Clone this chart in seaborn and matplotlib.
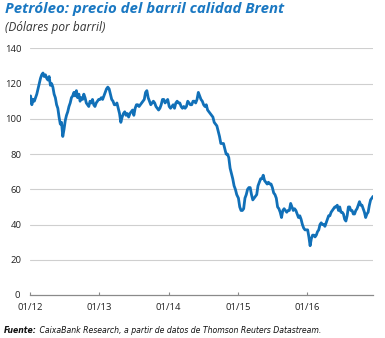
import numpy as np
import pandas as pd
import matplotlib
matplotlib.use("Agg")
import matplotlib.pyplot as plt
import matplotlib.dates as mdates
import seaborn as sns

# Weekly Brent price (USD/barrel)
brent_2012 = [113, 108, 111, 110, 112,
              114, 117, 120, 123,
              125, 126, 124, 125, 123,
              122, 124, 119, 120,
              118, 114, 112, 108, 106,
              101, 97, 98, 90, 94,
              99, 102, 104, 107,
              109, 112, 113, 115, 113,
              116, 112, 114, 110, 112,
              111, 114, 112, 109, 108,
              107, 110, 109, 111,
              108, 107, 109, 110, 111]
brent_2013 = [111, 112, 111, 113, 115,
              117, 118, 117, 114,
              111, 110, 108, 108, 109,
              106, 103, 98, 101,
              103, 104, 102, 103, 101,
              103, 104, 105, 102,
              106, 108, 108, 107,
              108, 109, 110, 111, 115,
              116, 112, 110, 108,
              109, 110, 109, 107, 106,
              105, 106, 108, 111,
              111, 109, 110, 111]
brent_2014 = [107, 106, 107, 108,
              106, 109, 110, 109,
              109, 107, 106, 107,
              106, 107, 110, 109,
              108, 108, 110, 110,
              109, 111, 115, 113, 111,
              110, 108, 107, 108,
              105, 104, 103, 102,
              101, 98, 97, 96,
              93, 90, 86, 86, 86,
              83, 80, 80, 78, 72,
              69, 66, 62, 60, 57]
brent_2015 = [55, 50, 48, 48, 49,
              55, 57, 60, 61,
              61, 57, 54, 55,
              56, 57, 62, 64, 66,
              66, 68, 65, 64,
              63, 64, 63, 63,
              61, 58, 57, 55,
              50, 49, 47, 44, 48,
              49, 48, 47, 48,
              48, 52, 50, 48, 49,
              48, 46, 44, 45,
              43, 40, 38, 37, 37]
brent_2016 = [37, 33, 28, 32, 34,
              34, 33, 34, 36,
              37, 40, 41, 40, 40,
              39, 41, 43, 45,
              45, 47, 48, 49, 50,
              50, 51, 48, 50,
              47, 47, 46, 43,
              42, 45, 50, 50, 48,
              48, 46, 46, 48, 49,
              51, 53, 51, 51, 49,
              47, 44, 46, 47,
              51, 54, 55, 56]

year_series = {2012: brent_2012, 2013: brent_2013, 2014: brent_2014,
               2015: brent_2015, 2016: brent_2016}
year_ends = {2012: "2012-12-28", 2013: "2013-12-27", 2014: "2014-12-26",
             2015: "2015-12-28", 2016: "2016-12-14"}

y_ticks = [0, 20, 40, 60, 80, 100, 120, 140]
x_tick_dates = ["2012-01-01", "2013-01-01", "2014-01-01", "2015-01-01", "2016-01-01"]
x_tick_labels = ["01/12", "01/13", "01/14", "01/15", "01/16"]

title = "Petróleo: precio del barril calidad Brent"
subtitle = "(Dólares por barril)"
source_bold = "Fuente:"
source_text = " CaixaBank Research, a partir de datos de Thomson Reuters Datastream."

frames = []
for yr, vals in year_series.items():
    d = pd.date_range(f"{yr}-01-04", year_ends[yr], periods=len(vals))
    frames.append(pd.DataFrame({"fecha": d, "precio": vals}))
df = pd.concat(frames, ignore_index=True)

sns.set_theme(style="white")
plt.rcParams["font.family"] = ["Open Sans", "DejaVu Sans"]

fig = plt.figure(figsize=(3.85, 3.38), dpi=100)
ax = fig.add_axes([0.078, 0.127, 0.891, 0.730])

sns.lineplot(data=df, x="fecha", y="precio", ax=ax, color="#1170b8",
             linewidth=2.0, zorder=3)

ax.set_ylim(0, 140)
ax.set_xlim(pd.Timestamp("2012-01-01"), pd.Timestamp("2016-12-14"))
ax.set_yticks(y_ticks[1:])
ax.set_yticklabels([str(v) for v in y_ticks[1:]])
ax.yaxis.grid(True, color="#cfcfcf", linewidth=0.8)
ax.xaxis.grid(False)
ax.set_xticks([pd.Timestamp(d) for d in x_tick_dates])
ax.set_xticklabels(x_tick_labels)
ax.set_xlabel("")
ax.set_ylabel("")
for s in ["left", "right", "top"]:
    ax.spines[s].set_visible(False)
ax.spines["bottom"].set_color("#8a8a8a")
ax.spines["bottom"].set_linewidth(0.9)
ax.tick_params(axis="x", direction="in", length=2.5, width=0.8, color="#8a8a8a",
               labelsize=6.8, labelcolor="#222222", pad=5.5, bottom=True)
ax.tick_params(axis="y", length=0, labelsize=6.8, labelcolor="#222222", pad=6)
# zero label at baseline
ax.text(-0.028, 0, "0", transform=ax.get_yaxis_transform(), ha="right", va="center",
        fontsize=6.8, color="#222222")

fig.text(0.013, 0.972, title, fontsize=10.8, fontweight="bold", fontstyle="italic",
         color="#1a78c2", ha="left", va="center")
fig.text(0.013, 0.919, subtitle, fontsize=8.6, fontstyle="italic",
         color="#333333", ha="left", va="center")

ft1 = fig.text(0.011, 0.022, source_bold, fontsize=5.6, fontweight="bold",
               fontstyle="italic", color="#111111", ha="left", va="center",
               family=["Liberation Sans Narrow", "DejaVu Sans"])
r = fig.canvas.get_renderer()
bb = ft1.get_window_extent(renderer=r)
x1 = bb.x1 / fig.bbox.width
fig.text(x1, 0.022, source_text, fontsize=5.6, fontstyle="italic", color="#111111",
         ha="left", va="center", family=["Liberation Sans Narrow", "DejaVu Sans"])

fig.savefig("out.png", dpi=100)
